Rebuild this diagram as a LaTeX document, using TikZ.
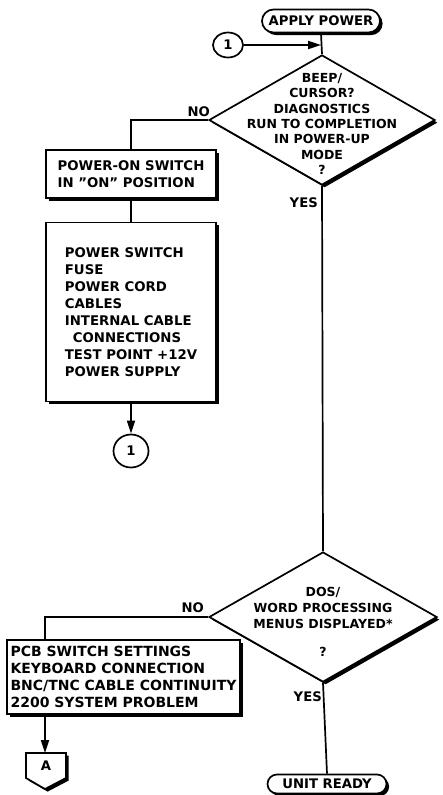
\documentclass[tikz,border=0pt]{standalone}
\usepackage{fontspec}
\setmainfont{DejaVu Sans}
\usetikzlibrary{shapes.geometric,shapes.misc,shadows,arrows.meta}
\begin{document}
\begin{tikzpicture}[x=1pt,y=-1pt,
  font=\fontsize{13.2}{15}\selectfont\bfseries,
  ln/.style={line width=1.7pt},
  arr/.style={ln,-{Triangle[length=13pt,width=8pt]}},
  shd/.style={drop shadow={shadow xshift=2.6pt,shadow yshift=-2.6pt,fill=black,opacity=1}},
  term/.style={rounded rectangle,draw,ln,fill=white,shd,inner sep=0pt},
  conn/.style={ellipse,draw,ln,fill=white,inner sep=0pt},
  dec/.style={diamond,draw,ln,fill=white,shd,inner sep=0pt,minimum height=130pt},
  dtext/.style={inner sep=0pt,align=center,font=\fontsize{12.5}{15.3}\selectfont\bfseries},
  proc/.style={rectangle,draw,ln,fill=white,shd,align=left,inner sep=0pt,
    font=\fontsize{13.3}{17}\selectfont\bfseries},
  lbl/.style={inner sep=0pt,align=center}
]
\useasboundingbox (0,0) rectangle (442,795);

% nodes
\node[term,minimum width=118pt,minimum height=23pt] (ap) at (321,21) {APPLY POWER};
\node[conn,minimum width=30pt,minimum height=25pt] (c1) at (228,45) {1};
\node[dec,minimum width=226pt] (d1) at (322,120) {};
\node[dtext] (t1) at (322,124) {BEEP/\\CURSOR?\\DIAGNOSTICS\\RUN TO COMPLETION\\IN POWER-UP\\MODE\\?};
\node[proc,minimum width=170pt,minimum height=48pt] (b1) at (131,174) {POWER-ON SWITCH\\IN \symbol{34}ON\symbol{34} POSITION};
\node[proc,minimum width=170pt,minimum height=179pt] (b2) at (131,312)
  {POWER SWITCH\\FUSE\\POWER CORD\\CABLES\\INTERNAL CABLE\\\hspace*{8pt}CONNECTIONS\\TEST POINT +12V\\POWER SUPPLY};
\node[conn,minimum width=35pt,minimum height=33pt] (c2) at (131,451) {1};
\node[dec,minimum width=228pt] (d2) at (323,617) {};
\node[dtext,font=\fontsize{12.5}{16}\selectfont\bfseries] (t2) at (323,622) {DOS/\\WORD PROCESSING\\MENUS DISPLAYED*\\[12pt]?};
\node[proc,minimum width=233pt,minimum height=74pt,font=\fontsize{14}{17}\selectfont\bfseries] (b3) at (123.5,677)
  {PCB SWITCH SETTINGS\\KEYBOARD CONNECTION\\BNC/TNC CABLE CONTINUITY\\2200 SYSTEM PROBLEM};
\coordinate (offAtop) at (46,753);
\coordinate (offAtip) at (45,789);
\draw[ln,fill=white,shd] (26,753) -- (26,778) -- (offAtip) -- (66,778) -- (66,753) -- cycle;
\node[inner sep=0pt] (offA) at (46,766) {A};
\node[term,minimum width=119pt,minimum height=19pt] (ur) at (327,784) {UNIT READY};

% labels
\node[lbl,anchor=south east] (no1) at (210,117) {NO};
\node[lbl,anchor=east] (yes1) at (318,203) {YES};
\node[lbl,anchor=south east] (no2) at (204,613) {NO};
\node[lbl,anchor=east] (yes2) at (322,697) {YES};

% connectors
\coordinate (j1) at (ap.south |- c1);
\draw[ln] (ap.south) -- (d1.north);
\draw[arr] (c1.east) -- (j1);
\draw[ln] (d1.west) -| (b1.north);
\draw[ln] (b1.south) -- (b2.north);
\draw[arr] (b2.south) -- (c2.north);
\draw[ln] (d1.south) -- (d2.north);
\draw[ln] (d2.west) -| (offAtip |- b3.north);
\draw[arr] (offAtip |- b3.south) -- (offAtip |- offAtop);
\draw[ln] (d2.south) -- (ur.north);
\end{tikzpicture}
\end{document}
